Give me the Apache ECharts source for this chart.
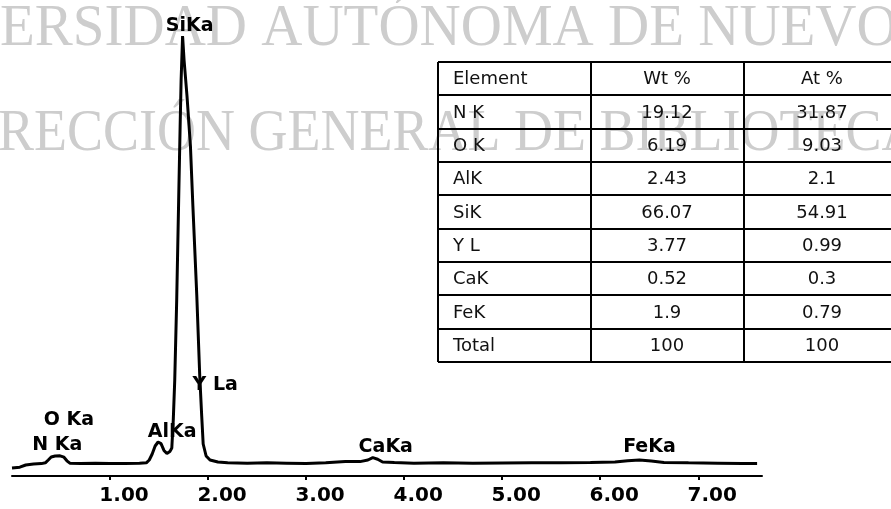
<!DOCTYPE html>
<html>
<head>
<meta charset="utf-8">
<title>EDS spectrum</title>
<script src="https://cdn.jsdelivr.net/npm/echarts@6/dist/echarts.min.js"></script>
<style>
  html, body { margin: 0; padding: 0; background: #fff; }
  #chart { width: 891px; height: 509px; }
</style>
</head>
<body>
<div id="chart"></div>
<script>
// ---- Spectrum: energy (keV) and detector counts ----
const energyKeV = [
  0.00, 0.08, 0.14, 0.22, 0.30, 0.34, 0.37, 0.40, 0.44, 0.49, 0.53, 0.56, 0.59,
  0.70, 0.85, 1.00, 1.15, 1.30, 1.37, 1.40, 1.43, 1.46, 1.49, 1.52, 1.55, 1.58,
  1.61, 1.63, 1.645, 1.66, 1.68, 1.70, 1.715, 1.725, 1.74, 1.755, 1.785, 1.82,
  1.845, 1.885, 1.915, 1.935, 1.95, 1.98, 2.02, 2.10, 2.20, 2.40, 2.60, 2.80,
  3.00, 3.20, 3.40, 3.55, 3.63, 3.68, 3.73, 3.78, 3.90, 4.10, 4.40, 4.70, 5.00,
  5.30, 5.60, 5.90, 6.15, 6.28, 6.40, 6.52, 6.65, 6.90, 7.20, 7.45, 7.60
];
const counts = [
  40, 44, 55, 60, 62, 66, 80, 95, 100, 101, 94, 76, 64,
  62, 64, 62, 63, 64, 66, 80, 110, 150, 170, 162, 128, 112,
  122, 140, 280, 480, 880, 1380, 1750, 1980, 2200, 2080, 1900, 1650,
  1350, 900, 500, 300, 160, 100, 80, 70, 66, 64, 66, 64,
  62, 66, 72, 72, 80, 92, 84, 70, 67, 64, 66, 64, 65,
  66, 66, 67, 70, 76, 80, 75, 68, 66, 64, 62, 62
];

// ---- Energy axis ticks ----
const tickValues = [1, 2, 3, 4, 5, 6, 7];
const tickLabels = ['1.00', '2.00', '3.00', '4.00', '5.00', '6.00', '7.00'];

// ---- Identified lines ----
const peakNames = ['N Ka', 'O Ka', 'AlKa', 'SiKa', 'Y La', 'CaKa', 'FeKa'];
const peakEnergies = [0.39, 0.52, 1.49, 1.74, 1.92, 3.69, 6.40];

// ---- Quantification table ----
const tableHeader = ['Element', 'Wt %', 'At %'];
const elements = ['N K', 'O K', 'AlK', 'SiK', 'Y L', 'CaK', 'FeK', 'Total'];
const weightPct = [19.12, 6.19, 2.43, 66.07, 3.77, 0.52, 1.9, 100];
const atomicPct = [31.87, 9.03, 2.1, 54.91, 0.99, 0.3, 0.79, 100];

// ---- Library stamp behind the plot ----
const stampLines = ['ERSIDAD AUTÓNOMA DE NUEVO', 'RECCIÓN GENERAL DE BIBLIOTECAS'];

// ---------------- layout & style ----------------
const INK = '#000';
const LABEL_FONT = 'DejaVu Sans';
// label nudges (px) relative to each line's energy on the baseline
const LABEL_NUDGE = [[7, -31], [6, -56], [14, -44], [7, -450], [15, -91], [12, -29], [10, -29]];

const TABLE = { top: 62, rowH: 33.33, cols: [438, 591, 744, 891], textLeft: 453, centers: [667, 822] };
const tableFont = '18px "DejaVu Sans"';

function buildTable() {
  const children = [];
  const rows = [tableHeader].concat(elements.map((e, i) => [e, String(weightPct[i]), String(atomicPct[i])]));
  const bottom = TABLE.top + rows.length * TABLE.rowH;
  for (let k = 0; k <= rows.length; k++) {
    const y = Math.round(TABLE.top + k * TABLE.rowH);
    children.push({ type: 'line', shape: { x1: TABLE.cols[0], y1: y, x2: TABLE.cols[3], y2: y },
      style: { stroke: INK, lineWidth: 2 } });
  }
  for (let c = 0; c < 3; c++) {
    children.push({ type: 'line', shape: { x1: TABLE.cols[c], y1: TABLE.top, x2: TABLE.cols[c], y2: Math.round(bottom) },
      style: { stroke: INK, lineWidth: 2 } });
  }
  rows.forEach((r, i) => {
    const cy = TABLE.top + (i + 0.5) * TABLE.rowH + 1;
    const base = { font: tableFont, fill: '#111', verticalAlign: 'middle' };
    children.push({ type: 'text', style: Object.assign({ text: r[0], x: TABLE.textLeft, y: cy, align: 'left' }, base) });
    children.push({ type: 'text', style: Object.assign({ text: r[1], x: TABLE.centers[0], y: cy, align: 'center' }, base) });
    children.push({ type: 'text', style: Object.assign({ text: r[2], x: TABLE.centers[1], y: cy, align: 'center' }, base) });
  });
  return { type: 'group', z: 10, children };
}

function stamp(text, x, y, size, sy) {
  return {
    type: 'text', z: -10, silent: true, x: x, y: y, scaleY: sy,
    style: { text: text, x: 0, y: 0, font: size + 'px "Liberation Serif"', fill: '#cdcdcd', align: 'left', verticalAlign: 'middle' }
  };
}

const chart = echarts.init(document.getElementById('chart'), null, { renderer: 'canvas' });

chart.setOption({
  animation: false,
  backgroundColor: '#fff',
  grid: { left: 12, right: 129, top: 36, bottom: 33, containLabel: false },
  xAxis: {
    type: 'value', min: 0, max: 7.65,
    splitLine: { show: false },
    axisLine: { show: true, lineStyle: { color: INK, width: 2 } },
    axisTick: { show: true, customValues: tickValues, length: 4, lineStyle: { color: INK, width: 2 } },
    axisLabel: {
      show: true, customValues: tickValues,
      formatter: v => tickLabels[tickValues.indexOf(v)],
      color: INK, fontFamily: 'DejaVu Sans', fontWeight: 'bold', fontSize: 20,
      margin: 10, align: 'center', padding: [0, 0, 0, 28]
    }
  },
  yAxis: { type: 'value', min: 0, max: 2200, show: false, splitLine: { show: false } },
  graphic: [
    stamp(stampLines[0], 0, 30, 57, 1.03),
    stamp(stampLines[1], -2, 135, 54, 1.08),
    buildTable()
  ],
  series: [
    {
      type: 'line',
      data: energyKeV.map((e, i) => [e, counts[i]]),
      symbol: 'none',
      lineStyle: { color: INK, width: 3 },
      z: 3
    },
    {
      type: 'scatter',
      symbolSize: 0,
      silent: true,
      clip: false,
      z: 4,
      itemStyle: { opacity: 1 },
      data: peakEnergies.map((e, i) => ({
        value: [e, 0],
        label: { offset: LABEL_NUDGE[i] }
      })),
      label: {
        show: true, position: 'inside',
        formatter: p => peakNames[p.dataIndex],
        color: INK, fontFamily: LABEL_FONT, fontWeight: 'bold', fontSize: 19
      }
    }
  ]
});
</script>
</body>
</html>
